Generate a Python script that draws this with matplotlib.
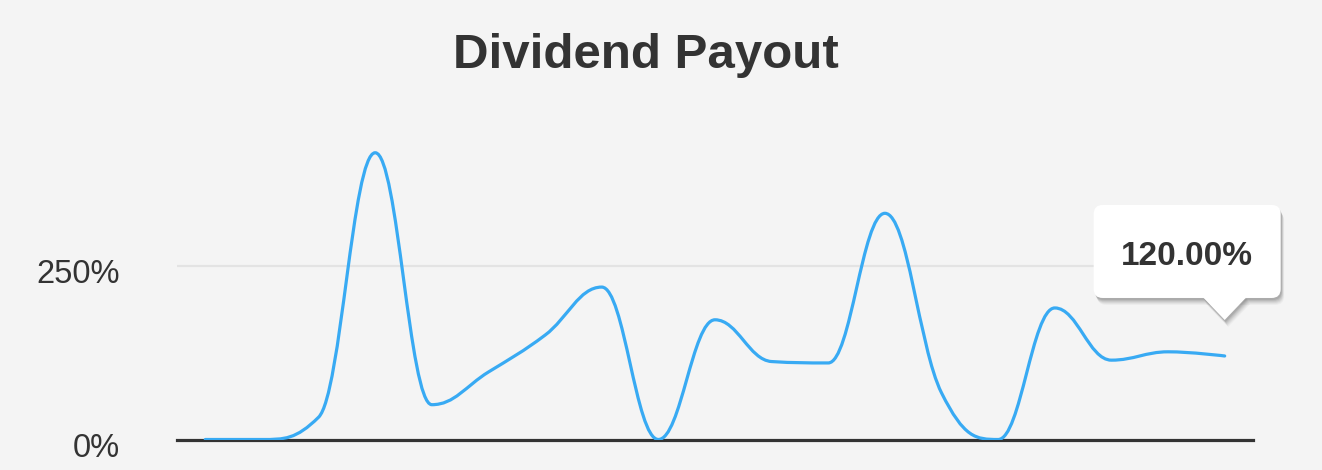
import matplotlib
matplotlib.use('Agg')
import matplotlib.pyplot as plt
from matplotlib.path import Path
from matplotlib.patches import PathPatch, FancyBboxPatch, Polygon
from matplotlib.transforms import IdentityTransform, ScaledTranslation

# ---------------- data ----------------
periods = list(range(19))          # unlabelled categories along x
payout = [0, 0, 32, 412, 50, 97, 150, 219, 0, 172, 112, 110, 325, 67, 0, 189, 114, 126, 120]
ytick_values = [0, 250]
ytick_labels = ['0%', '250%']
title = 'Dividend Payout'
tooltip_text = '120.00%'

# ---------------- style ----------------
BG = '#f4f4f4'
LINE = '#38aaf3'
TEXT = '#333333'
plt.rcParams['font.family'] = ['Liberation Sans', 'DejaVu Sans']


def highcharts_spline(xs, ys, smoothing=1.5):
    n = len(xs)
    denom = smoothing + 1
    left = [None] * n
    right = [None] * n
    for i in range(1, n - 1):
        px, py = xs[i], ys[i]
        lx, ly = xs[i - 1], ys[i - 1]
        nx, ny = xs[i + 1], ys[i + 1]
        lcx = (smoothing * px + lx) / denom
        lcy = (smoothing * py + ly) / denom
        rcx = (smoothing * px + nx) / denom
        rcy = (smoothing * py + ny) / denom
        if rcx != lcx:
            corr = ((rcy - lcy) * (rcx - px)) / (rcx - lcx) + py - rcy
            lcy += corr
            rcy += corr
            if lcy > ly and lcy > py:
                lcy = max(ly, py)
                rcy = 2 * py - lcy
            elif lcy < ly and lcy < py:
                lcy = min(ly, py)
                rcy = 2 * py - lcy
            if rcy > ny and rcy > py:
                rcy = max(ny, py)
                lcy = 2 * py - rcy
            elif rcy < ny and rcy < py:
                rcy = min(ny, py)
                lcy = 2 * py - rcy
        left[i] = (lcx, lcy)
        right[i] = (rcx, rcy)
    verts = [(xs[0], ys[0])]
    codes = [Path.MOVETO]
    for i in range(1, n):
        rc = right[i - 1] if right[i - 1] is not None else (xs[i - 1], ys[i - 1])
        lc = left[i] if left[i] is not None else (xs[i], ys[i])
        verts += [rc, lc, (xs[i], ys[i])]
        codes += [Path.CURVE4] * 3
    return Path(verts, codes)


W, H, DPI = 1322, 470, 100
fig = plt.figure(figsize=(W / DPI, H / DPI), dpi=DPI, facecolor=BG)
ax = fig.add_axes([177 / W, (H - 439.5) / H, (1253 - 177) / W, (439.5 - 91.5) / H])
ax.set_facecolor(BG)
ax.set_xlim(-0.5, len(periods) - 0.5)
ax.set_ylim(0, 500)

for s in ax.spines.values():
    s.set_visible(False)
ax.set_xticks([])
ax.set_yticks(ytick_values, ytick_labels)
ax.tick_params(axis='y', length=0, pad=41, labelsize=23.5, labelcolor=TEXT)
offset = ScaledTranslation(0, -4 / 72, fig.dpi_scale_trans)
for lbl in ax.get_yticklabels():
    lbl.set_transform(lbl.get_transform() + offset)

# grid line at 250 and baseline at 0
ax.axhline(ytick_values[1], color='#e3e3e3', lw=1.6, zorder=1)
ax.axhline(ytick_values[0], color='#333333', lw=2.3, zorder=3, clip_on=False)

path = highcharts_spline(periods, payout)
ax.add_patch(PathPatch(path, fill=False, edgecolor=LINE, lw=2.3,
                       capstyle='round', joinstyle='round', zorder=4))

fig.text(646 / W, (H - 68) / H, title, ha='center', va='baseline',
         fontsize=35.5, fontweight='bold', color=TEXT)

# ---------------- tooltip anchored to the last point ----------------
fig.canvas.draw()
px, py = ax.transData.transform((periods[-1], payout[-1]))
tip_y = py + 36              # display pixels (y up)
box_left = px - 131
box_right = px + 56
box_bottom = tip_y + 22
box_top = box_bottom + 93
ident = IdentityTransform()

for k, a in [(7, 0.03), (6, 0.04), (5, 0.05), (4, 0.06), (3, 0.07), (2, 0.08)]:
    fig.patches.append(FancyBboxPatch((box_left + k / 2, box_bottom - k), box_right - box_left,
                                      box_top - box_bottom,
                                      boxstyle='round,pad=0,rounding_size=9',
                                      transform=ident, facecolor='black', alpha=a,
                                      edgecolor='none', zorder=5))
    fig.patches.append(Polygon([(px - 22 + k / 2, box_bottom + 1 - k),
                                (px + 22 + k / 2, box_bottom + 1 - k),
                                (px + k / 2, tip_y - k)], closed=True, transform=ident,
                               facecolor='black', alpha=a, edgecolor='none', zorder=5))
fig.patches.append(FancyBboxPatch((box_left, box_bottom), box_right - box_left,
                                  box_top - box_bottom,
                                  boxstyle='round,pad=0,rounding_size=9',
                                  transform=ident, facecolor='white', edgecolor='none',
                                  zorder=6))
fig.patches.append(Polygon([(px - 22, box_bottom + 1), (px + 22, box_bottom + 1), (px, tip_y)],
                           closed=True, transform=ident, facecolor='white',
                           edgecolor='none', zorder=6))
fig.text((box_left + box_right) / 2 / W, ((box_bottom + box_top) / 2 - 5) / H, tooltip_text,
         ha='center', va='center', fontsize=24, fontweight='bold', color=TEXT, zorder=7)

fig.savefig('out.png', dpi=DPI, facecolor=BG)
